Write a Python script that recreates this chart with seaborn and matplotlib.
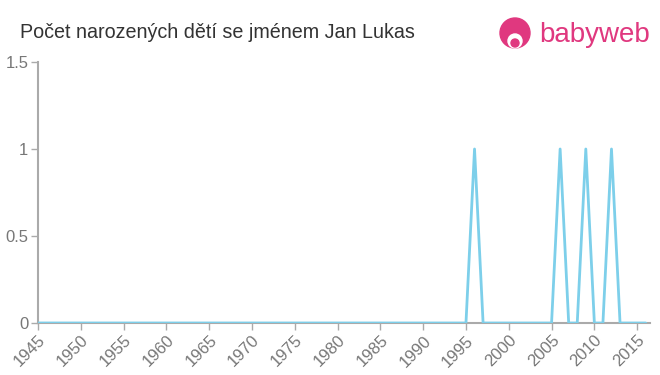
import matplotlib
matplotlib.use("Agg")
import matplotlib.pyplot as plt
import seaborn as sns
import pandas as pd
from matplotlib.patches import Circle

years = list(range(1945, 2017))
peak_years = [1996, 2006, 2009, 2012]
peak_values = [1, 1, 1, 1]
counts = [peak_values[peak_years.index(y)] if y in peak_years else 0 for y in years]
x_ticks = list(range(1945, 2016, 5))
y_ticks = [0, 0.5, 1, 1.5]
y_tick_labels = ["0", "0.5", "1", "1.5"]
title = "Počet narozených dětí se jménem Jan Lukas"

df = pd.DataFrame({"year": years, "count": counts})

sns.set_theme(style="white")
plt.rcParams["font.family"] = ["Liberation Sans", "DejaVu Sans"]

fig = plt.figure(figsize=(6.6, 3.75), dpi=100)
ax = fig.add_axes([38/660, 1-323/375, (650-38)/660, (323-62)/375])

sns.lineplot(data=df, x="year", y="count", ax=ax, color="#7dcfea", linewidth=2, zorder=3)

grey = "#aaaaaa"
ax.set_xlim(1945, 2016.5)
ax.set_ylim(0, 1.5)
ax.set_xticks(x_ticks)
ax.set_xticklabels([str(t) for t in x_ticks], rotation=45, ha="right", rotation_mode="anchor")
ax.set_yticks(y_ticks)
ax.set_yticklabels(y_tick_labels)
ax.tick_params(axis="both", bottom=True, left=True, colors=grey, labelcolor="#777777",
               labelsize=12, length=5, width=1, direction="out")
ax.tick_params(axis="x", pad=2)
ax.tick_params(axis="y", pad=2)
ax.set_xlabel("")
ax.set_ylabel("")
for s in ["top", "right"]:
    ax.spines[s].set_visible(False)
for s in ["left", "bottom"]:
    ax.spines[s].set_color(grey)
    ax.spines[s].set_linewidth(1.5)
ax.grid(False)

fig.text(20/660, 1-32/375, title, fontsize=14.2, color="#333333", va="center", ha="left")

# logo
pink = "#e0387f"
logo_ax = fig.add_axes([0, 0, 1, 1], facecolor="none")
logo_ax.set_xlim(0, 660)
logo_ax.set_ylim(375, 0)
logo_ax.axis("off")
logo_ax.add_patch(Circle((515, 33), 15, color=pink))
logo_ax.add_patch(Circle((515, 41), 7, color="white"))
logo_ax.add_patch(Circle((515, 43), 4, color=pink))
logo_ax.text(539, 35, "babyweb", fontsize=20, color=pink, va="center", ha="left")

fig.savefig("out.png", dpi=100)
